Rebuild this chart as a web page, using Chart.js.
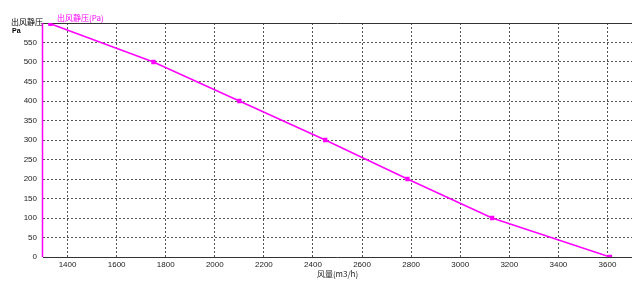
<!DOCTYPE html>
<html>
<head>
<meta charset="utf-8">
<script src="https://cdn.jsdelivr.net/npm/chart.js@4/dist/chart.umd.min.js"></script>
<style>
html,body{margin:0;padding:0;background:#fff;}
#wrap{position:relative;width:640px;height:281px;}
</style>
</head>
<body>
<div id="wrap"><canvas id="c" width="640" height="281"></canvas></div>
<script>
// Data
const airflow = [1330, 1750, 2100, 2450, 2785, 3130, 3610];     // 风量 m3/h
const pressure = [598, 500, 400, 300, 200, 100, 0];             // 出风静压 Pa
const xTicks = [1400, 1600, 1800, 2000, 2200, 2400, 2600, 2800, 3000, 3200, 3400, 3600];
const yTicks = [0, 50, 100, 150, 200, 250, 300, 350, 400, 450, 500, 550];
const seriesName = '出风静压(Pa)';
const yTitle = ['出风静压', 'Pa'];
const xTitle = '风量(m3/h)';

const MAG = '#ff00ff';
const numFont = {family: 'Liberation Sans, DejaVu Sans, sans-serif', size: 8};
const cjkFont = '"Noto Sans CJK SC", "DejaVu Sans", sans-serif';

const framePlugin = {
  id: 'frame',
  beforeDatasetsDraw(chart) {
    const {ctx, chartArea: a} = chart;
    ctx.save();
    ctx.lineWidth = 1;
    ctx.strokeStyle = '#333';
    ctx.beginPath();
    ctx.moveTo(a.left, a.top + 0.5); ctx.lineTo(a.right, a.top + 0.5);
    ctx.moveTo(a.left, a.bottom + 0.5); ctx.lineTo(a.right, a.bottom + 0.5);
    ctx.stroke();
    ctx.strokeStyle = MAG;
    ctx.lineWidth = 1.5;
    ctx.beginPath();
    ctx.moveTo(a.left - 0.5, a.top); ctx.lineTo(a.left - 0.5, a.bottom);
    ctx.stroke();
    ctx.restore();
  },
  afterDraw(chart) {
    const {ctx, chartArea: a} = chart;
    ctx.save();
    ctx.textBaseline = 'middle';
    ctx.textAlign = 'left';
    ctx.fillStyle = '#000';
    ctx.font = '8px ' + cjkFont;
    ctx.fillText(yTitle[0], 11, a.top - 1);
    ctx.font = 'bold 7px "Liberation Sans", sans-serif';
    ctx.fillText(yTitle[1], 12, a.top + 8);
    ctx.fillStyle = MAG;
    ctx.font = '8px ' + cjkFont;
    ctx.fillText(seriesName, 57, a.top - 5);
    ctx.restore();
  }
};

new Chart(document.getElementById('c'), {
  type: 'scatter',
  data: {
    datasets: [{
      label: seriesName,
      data: airflow.map((x, i) => ({x: x, y: pressure[i]})),
      showLine: true,
      borderColor: MAG,
      backgroundColor: MAG,
      borderWidth: 1.5,
      pointStyle: 'rect',
      pointRadius: 2,
      pointHoverRadius: 2
    }]
  },
  options: {
    responsive: false,
    animation: false,
    layout: {padding: {top: 23, right: 8, left: 0, bottom: 0}},
    plugins: {legend: {display: false}, tooltip: {enabled: false}},
    scales: {
      x: {
        type: 'linear',
        min: 1300, max: 3700,
        afterBuildTicks: s => { s.ticks = xTicks.map(v => ({value: v})); },
        afterFit: s => { s.height = 24; },
        ticks: {font: numFont, color: '#222', padding: 3, maxRotation: 0, callback: v => String(v)},
        grid: {color: '#555', lineWidth: 1, drawTicks: false},
        border: {display: false, dash: [2, 2]},
        title: {display: true, text: xTitle, color: '#222', font: {family: cjkFont, size: 8}, padding: {top: 0, bottom: 2}}
      },
      y: {
        type: 'linear',
        min: 0, max: 600,
        afterBuildTicks: s => { s.ticks = yTicks.map(v => ({value: v})); },
        afterFit: s => { s.width = 43; },
        ticks: {font: numFont, color: '#222', padding: 6, callback: v => String(v)},
        grid: {color: '#555', lineWidth: 1, drawTicks: false},
        border: {display: false, dash: [2, 2]}
      }
    }
  },
  plugins: [framePlugin]
});
</script>
</body>
</html>
